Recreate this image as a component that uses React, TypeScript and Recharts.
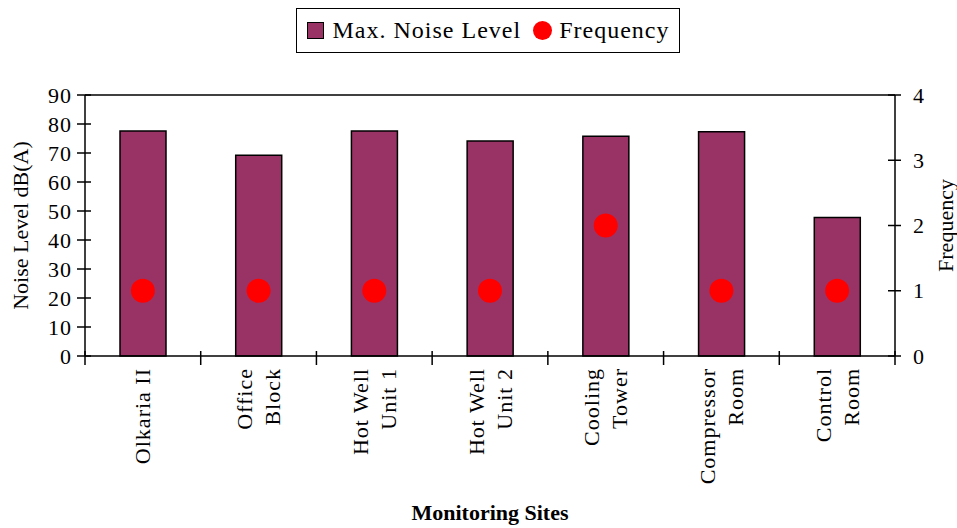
import { ComposedChart, Bar, Line, XAxis, YAxis, Legend, ReferenceLine } from 'recharts'

const sites = [
  'Olkaria II',
  'Office\nBlock',
  'Hot Well\nUnit 1',
  'Hot Well\nUnit 2',
  'Cooling\nTower',
  'Compressor\nRoom',
  'Control\nRoom',
]
const maxNoise = [77.6, 69.2, 77.6, 74.1, 75.8, 77.3, 47.8]
const frequency = [1, 1, 1, 1, 2, 1, 1]
const noiseTicks = [0, 10, 20, 30, 40, 50, 60, 70, 80, 90]
const freqTicks = [0, 1, 2, 3, 4]

const data = sites.map((site, i) => ({ site, noise: maxNoise[i], frequency: frequency[i] }))

const W = 957
const H = 528
const LEFT_W = 85
const RIGHT_W = 62
const BAND = (W - LEFT_W - RIGHT_W) / sites.length
const TICK_SIZE = 8
const TICK_MARGIN = 4
const FONT = "'Liberation Serif', 'Times New Roman', serif"
const BAR_COLOR = '#993366'
const DOT_COLOR = '#ff0000'

function LeftTick({ x, y, payload }: any) {
  const ax = x + TICK_SIZE + TICK_MARGIN
  return (
    <g>
      <line x1={ax - 8} x2={ax + 6} y1={y} y2={y} stroke="#000" strokeWidth={1.5} />
      <text x={ax - 13} y={y} textAnchor="end" dominantBaseline="central" fontSize={22} fontFamily={FONT} letterSpacing={1} fill="#000">
        {payload.value}
      </text>
    </g>
  )
}

function RightTick({ x, y, payload }: any) {
  const ax = x - TICK_SIZE - TICK_MARGIN
  return (
    <g>
      <line x1={ax - 7} x2={ax + 6} y1={y} y2={y} stroke="#000" strokeWidth={1.5} />
      <text x={ax + 18} y={y} textAnchor="start" dominantBaseline="central" fontSize={22} fontFamily={FONT} fill="#000">
        {payload.value}
      </text>
    </g>
  )
}

function SiteTick({ x, y, payload, index }: any) {
  const ay = y - TICK_SIZE - TICK_MARGIN
  const lines = String(payload.value).split('\n')
  const left = x - BAND / 2
  const right = x + BAND / 2
  return (
    <g>
      <line x1={left} x2={left} y1={ay - 5} y2={ay + 9} stroke="#000" strokeWidth={1.5} />
      {index === sites.length - 1 && (
        <line x1={right} x2={right} y1={ay - 5} y2={ay + 9} stroke="#000" strokeWidth={1.5} />
      )}
      <g transform={`translate(${x},${ay + 12}) rotate(-90)`}>
        {lines.map((l, i) => (
          <text
            key={i}
            x={0}
            y={(i - (lines.length - 1) / 2) * 28}
            textAnchor="end"
            dominantBaseline="central"
            fontSize={22}
            fontFamily={FONT}
            letterSpacing={1}
            fill="#000"
          >
            {l}
          </text>
        ))}
      </g>
    </g>
  )
}

const leftTitle = ({ viewBox }: any) => {
  const cx = viewBox.x + 20
  const cy = viewBox.y + viewBox.height / 2
  return (
    <text x={cx} y={cy} transform={`rotate(-90, ${cx}, ${cy})`} textAnchor="middle" dominantBaseline="central" fontSize={22} fontFamily={FONT} fill="#000">
      Noise Level dB(A)
    </text>
  )
}

const rightTitle = ({ viewBox }: any) => {
  const cx = viewBox.x + 50
  const cy = viewBox.y + viewBox.height / 2
  return (
    <text x={cx} y={cy} transform={`rotate(-90, ${cx}, ${cy})`} textAnchor="middle" dominantBaseline="central" fontSize={22} fontFamily={FONT} fill="#000">
      Frequency
    </text>
  )
}

const bottomTitle = ({ viewBox }: any) => (
  <text x={viewBox.x + viewBox.width / 2} y={viewBox.y + 156} textAnchor="middle" dominantBaseline="central" fontSize={22} fontWeight="bold" fontFamily={FONT} fill="#000">
    Monitoring Sites
  </text>
)

function LegendBox({ payload }: any) {
  const entries = [...(payload || [])].sort((a: any, b: any) =>
    (a.type === 'circle' ? 1 : 0) - (b.type === 'circle' ? 1 : 0)
  )
  return (
    <div style={{ display: 'flex', justifyContent: 'center', paddingLeft: 19 }}>
      <div
        style={{
          border: '1.5px solid #000',
          height: 43,
          display: 'flex',
          alignItems: 'center',
          padding: '0 10px',
          fontFamily: FONT,
          fontSize: 24,
          letterSpacing: 1,
          color: '#000',
          background: '#fff',
        }}
      >
        {entries.map((entry: any, i: number) => (
          <div key={i} style={{ display: 'flex', alignItems: 'center', marginLeft: i > 0 ? 12 : 0 }}>
            {entry.type === 'circle' ? (
              <span style={{ width: 19, height: 19, borderRadius: '50%', background: DOT_COLOR, marginRight: 7 }} />
            ) : (
              <span style={{ width: 15, height: 15, background: BAR_COLOR, border: '1.5px solid #000', marginRight: 9 }} />
            )}
            <span>{entry.value}</span>
          </div>
        ))}
      </div>
    </div>
  )
}

export default function App() {
  return (
    <div style={{ position: 'absolute', left: 0, top: 0, width: W, height: H, background: '#fff' }}>
      <ComposedChart width={W} height={H} data={data} margin={{ top: 50, right: 0, bottom: 0, left: 0 }}>
        <Legend verticalAlign="top" content={<LegendBox />} wrapperStyle={{ top: 8, left: 0, width: W }} />
        <XAxis
          dataKey="site"
          height={H - 356}
          interval={0}
          tickLine={false}
          tickSize={TICK_SIZE}
          tickMargin={TICK_MARGIN}
          tick={<SiteTick />}
          axisLine={{ stroke: '#000', strokeWidth: 1.5 }}
          label={bottomTitle}
        />
        <YAxis
          yAxisId="left"
          width={LEFT_W}
          domain={[0, 90]}
          ticks={noiseTicks}
          tickLine={false}
          tickSize={TICK_SIZE}
          tickMargin={TICK_MARGIN}
          tick={<LeftTick />}
          axisLine={{ stroke: '#000', strokeWidth: 1.5 }}
          label={leftTitle}
        />
        <YAxis
          yAxisId="right"
          orientation="right"
          width={RIGHT_W}
          domain={[0, 4]}
          ticks={freqTicks}
          tickLine={false}
          tickSize={TICK_SIZE}
          tickMargin={TICK_MARGIN}
          tick={<RightTick />}
          axisLine={{ stroke: '#000', strokeWidth: 1.5 }}
          label={rightTitle}
        />
        <ReferenceLine yAxisId="left" y={90} stroke="#000" strokeWidth={1.5} />
        <Bar
          yAxisId="left"
          dataKey="noise"
          name="Max. Noise Level"
          barSize={46}
          fill={BAR_COLOR}
          stroke="#000"
          strokeWidth={1.5}
          legendType="square"
          isAnimationActive={false}
        />
        <Line
          yAxisId="right"
          dataKey="frequency"
          name="Frequency"
          stroke="none"
          dot={{ r: 12, fill: DOT_COLOR, stroke: 'none' }}
          activeDot={false}
          legendType="circle"
          isAnimationActive={false}
        />
      </ComposedChart>
    </div>
  )
}
